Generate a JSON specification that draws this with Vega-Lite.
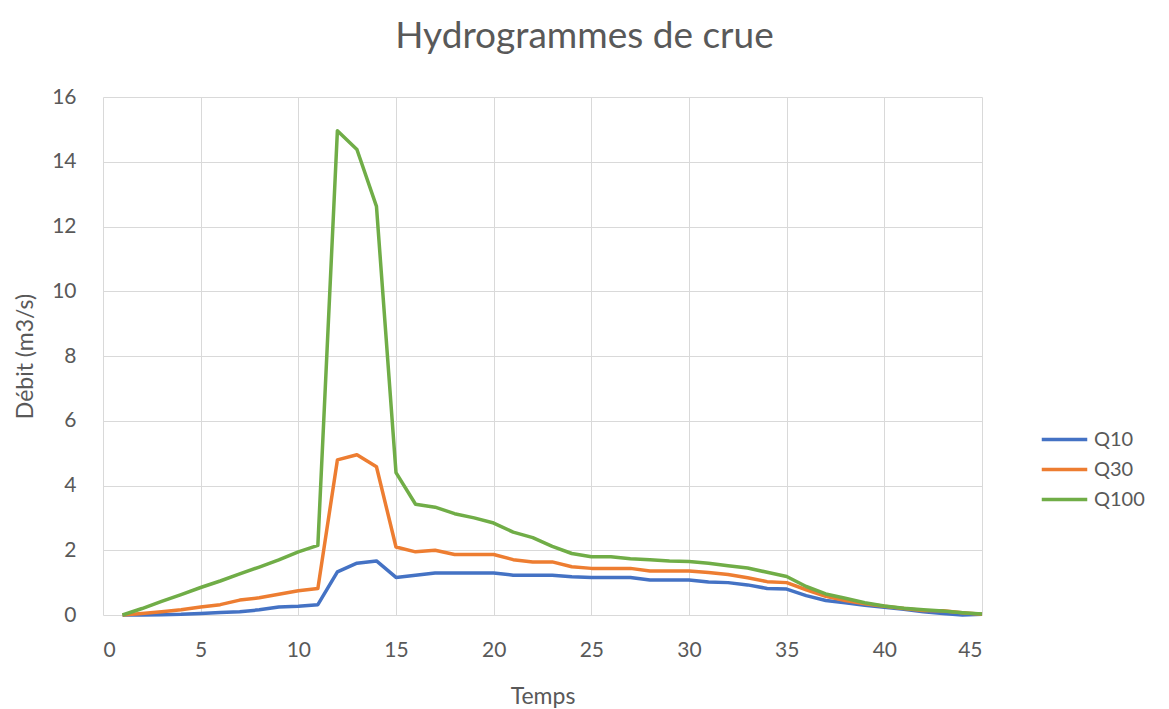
{
  "$schema": "https://vega.github.io/schema/vega-lite/v6.json",
  "width": 879,
  "height": 518,
  "autosize": {"type": "none"},
  "padding": {"left": 103, "top": 97, "right": 187, "bottom": 94},
  "background": "white",
  "title": {
    "text": "Hydrogrammes de crue",
    "font": "Lato",
    "fontSize": 37,
    "fontWeight": "normal",
    "color": "#595959",
    "offset": 30,
    "dx": 42
  },
  "data": {"values": [
    {"t":1,"Q10":0,"Q30":0,"Q100":0},
    {"t":2,"Q10":0,"Q30":0.05,"Q100":0.2},
    {"t":3,"Q10":0.01,"Q30":0.1,"Q100":0.42},
    {"t":4,"Q10":0.02,"Q30":0.16,"Q100":0.63},
    {"t":5,"Q10":0.05,"Q30":0.25,"Q100":0.85},
    {"t":6,"Q10":0.08,"Q30":0.32,"Q100":1.05},
    {"t":7,"Q10":0.1,"Q30":0.46,"Q100":1.27},
    {"t":8,"Q10":0.16,"Q30":0.53,"Q100":1.48},
    {"t":9,"Q10":0.25,"Q30":0.64,"Q100":1.7},
    {"t":10,"Q10":0.27,"Q30":0.75,"Q100":1.95},
    {"t":11,"Q10":0.32,"Q30":0.82,"Q100":2.15},
    {"t":12,"Q10":1.33,"Q30":4.79,"Q100":14.96},
    {"t":13,"Q10":1.6,"Q30":4.95,"Q100":14.38},
    {"t":14,"Q10":1.67,"Q30":4.58,"Q100":12.62},
    {"t":15,"Q10":1.16,"Q30":2.1,"Q100":4.4},
    {"t":16,"Q10":1.23,"Q30":1.95,"Q100":3.42},
    {"t":17,"Q10":1.3,"Q30":2.0,"Q100":3.33},
    {"t":18,"Q10":1.3,"Q30":1.87,"Q100":3.13},
    {"t":19,"Q10":1.3,"Q30":1.87,"Q100":3.0},
    {"t":20,"Q10":1.3,"Q30":1.87,"Q100":2.84},
    {"t":21,"Q10":1.23,"Q30":1.71,"Q100":2.56},
    {"t":22,"Q10":1.23,"Q30":1.64,"Q100":2.39},
    {"t":23,"Q10":1.23,"Q30":1.64,"Q100":2.12},
    {"t":24,"Q10":1.18,"Q30":1.49,"Q100":1.9},
    {"t":25,"Q10":1.16,"Q30":1.44,"Q100":1.8},
    {"t":26,"Q10":1.16,"Q30":1.44,"Q100":1.8},
    {"t":27,"Q10":1.16,"Q30":1.44,"Q100":1.74},
    {"t":28,"Q10":1.08,"Q30":1.36,"Q100":1.71},
    {"t":29,"Q10":1.08,"Q30":1.36,"Q100":1.67},
    {"t":30,"Q10":1.08,"Q30":1.36,"Q100":1.65},
    {"t":31,"Q10":1.02,"Q30":1.31,"Q100":1.6},
    {"t":32,"Q10":1.0,"Q30":1.25,"Q100":1.52},
    {"t":33,"Q10":0.93,"Q30":1.15,"Q100":1.45},
    {"t":34,"Q10":0.82,"Q30":1.03,"Q100":1.32},
    {"t":35,"Q10":0.8,"Q30":1.0,"Q100":1.19},
    {"t":36,"Q10":0.6,"Q30":0.78,"Q100":0.88},
    {"t":37,"Q10":0.45,"Q30":0.58,"Q100":0.65},
    {"t":38,"Q10":0.38,"Q30":0.45,"Q100":0.52},
    {"t":39,"Q10":0.3,"Q30":0.35,"Q100":0.38},
    {"t":40,"Q10":0.24,"Q30":0.27,"Q100":0.28},
    {"t":41,"Q10":0.18,"Q30":0.2,"Q100":0.21},
    {"t":42,"Q10":0.1,"Q30":0.14,"Q100":0.16},
    {"t":43,"Q10":0.05,"Q30":0.13,"Q100":0.12},
    {"t":44,"Q10":0.0,"Q30":0.07,"Q100":0.07},
    {"t":45,"Q10":0.02,"Q30":0.02,"Q100":0.03}
  ]},
  "transform": [
    {"fold": ["Q10", "Q30", "Q100"], "as": ["serie", "q"]}
  ],
  "mark": {"type": "line", "strokeWidth": 3.5, "strokeJoin": "round", "clip": false},
  "encoding": {
    "x": {
      "field": "t", "type": "quantitative",
      "scale": {"domain": [0, 45], "nice": false, "zero": false},
      "axis": {
        "title": "Temps",
        "values": [0,5,10,15,20,25,30,35,40,45],
        "domain": false, "ticks": false,
        "labelPadding": 24,
        "labelFont": "Lato", "labelFontSize": 21, "labelColor": "#595959",
        "titleFont": "Lato", "titleFontSize": 23, "titleFontWeight": "normal", "titleColor": "#595959",
        "titlePadding": 25,
        "gridColor": "#d9d9d9", "gridWidth": 1
      }
    },
    "y": {
      "field": "q", "type": "quantitative",
      "scale": {"domain": [0, 16], "nice": false},
      "axis": {
        "title": "Débit (m3/s)",
        "values": [0,2,4,6,8,10,12,14,16],
        "domain": false, "ticks": false,
        "labelPadding": 27,
        "labelFont": "Lato", "labelFontSize": 21, "labelColor": "#595959",
        "titleFont": "Lato", "titleFontSize": 23, "titleFontWeight": "normal", "titleColor": "#595959",
        "titlePadding": 14,
        "gridColor": "#d9d9d9", "gridWidth": 1
      }
    },
    "color": {
      "field": "serie", "type": "nominal",
      "scale": {"domain": ["Q10", "Q30", "Q100"], "range": ["#4472C4", "#ED7D31", "#70AD47"]},
      "legend": {
        "title": null,
        "orient": "none",
        "legendX": 942,
        "legendY": 323,
        "symbolType": "M-1.3,0H1.3",
        "symbolSize": 1225,
        "symbolStrokeWidth": 3.5,
        "rowPadding": 0,
        "labelOffset": 10,
        "labelFont": "Lato", "labelFontSize": 20, "labelColor": "#595959"
      }
    },
    "order": {"field": "t", "type": "quantitative"}
  },
  "config": {"view": {"stroke": null}}
}
